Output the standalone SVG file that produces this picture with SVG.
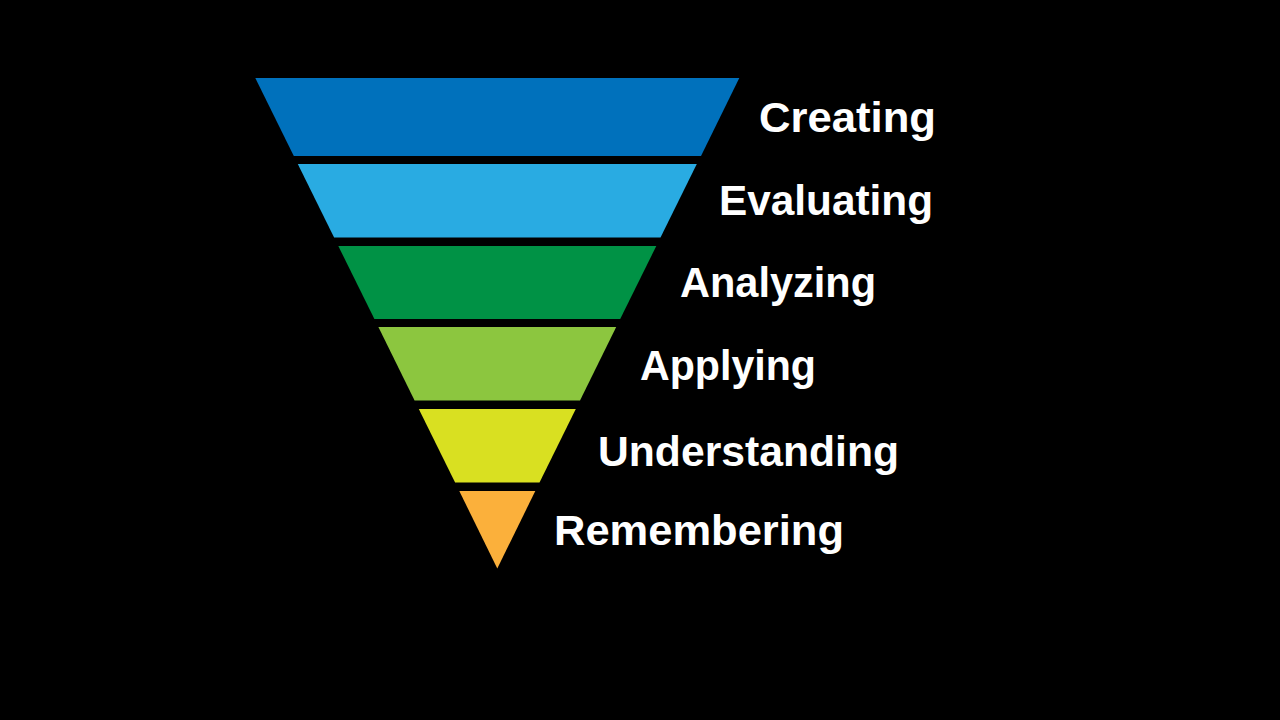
<svg xmlns="http://www.w3.org/2000/svg" width="1280" height="720" viewBox="0 0 1280 720">
  <style>
    .lbl { font-family: "Liberation Sans", Arial, Helvetica, sans-serif; font-weight: bold; font-size: 42px; fill: #FFFFFF; }
  </style>
  <rect x="0" y="0" width="1280" height="720" fill="#000000"/>
  <g id="level-creating">
    <polygon points="255.3,78 739.3,78 701,156 293.8,156" fill="#0071BC"/>
    <text class="lbl" x="759" y="132" textLength="177" lengthAdjust="spacingAndGlyphs">Creating</text>
  </g>
  <g id="level-evaluating">
    <polygon points="297.8,164 696.8,164 660.5,237.5 334.1,237.5" fill="#29ABE2"/>
    <text class="lbl" x="719" y="215" textLength="214" lengthAdjust="spacingAndGlyphs">Evaluating</text>
  </g>
  <g id="level-analyzing">
    <polygon points="338.3,246 656.3,246 620.2,319 374.4,319" fill="#009245"/>
    <text class="lbl" x="680" y="297" textLength="196" lengthAdjust="spacingAndGlyphs">Analyzing</text>
  </g>
  <g id="level-applying">
    <polygon points="378.4,327 616.2,327 580,400.5 414.6,400.5" fill="#8CC63F"/>
    <text class="lbl" x="640" y="380" textLength="176" lengthAdjust="spacingAndGlyphs">Applying</text>
  </g>
  <g id="level-understanding">
    <polygon points="418.8,409 575.8,409 539.5,482.5 455.1,482.5" fill="#D9E021"/>
    <text class="lbl" x="598" y="466" textLength="301" lengthAdjust="spacingAndGlyphs">Understanding</text>
  </g>
  <g id="level-remembering">
    <polygon points="459.3,491 535.3,491 497.3,568.5" fill="#FBB03B"/>
    <text class="lbl" x="554" y="545" textLength="290" lengthAdjust="spacingAndGlyphs">Remembering</text>
  </g>
  <g id="connectors"/>
</svg>
